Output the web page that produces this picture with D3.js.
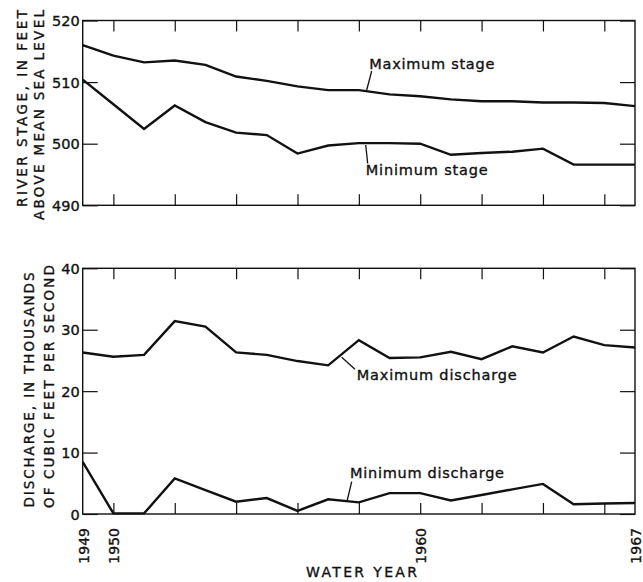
<!DOCTYPE html>
<html>
<head>
<meta charset="utf-8">
<script src="https://cdn.jsdelivr.net/npm/d3@7"></script>
<style>
  body { margin: 0; background: #fff; }
  svg { display: block; }
  text { font-family: "DejaVu Sans", "Liberation Sans", Arial, sans-serif; fill: #111; stroke: #111; stroke-width: 0.35px; }
</style>
</head>
<body>
<svg id="chart" width="643" height="582"></svg>
<script>
// Water years on record
const years = [1949, 1950, 1951, 1952, 1953, 1954, 1955, 1956, 1957, 1958,
               1959, 1960, 1961, 1962, 1963, 1964, 1965, 1966, 1967];

// River stage, feet above mean sea level
const maxStage = [516.0, 514.3, 513.2, 513.5, 512.8, 510.9, 510.2, 509.3, 508.7, 508.7,
                  508.0, 507.7, 507.2, 506.9, 506.9, 506.7, 506.7, 506.6, 506.1];
const minStage = [510.4, 506.4, 502.4, 506.2, 503.5, 501.8, 501.4, 498.4, 499.7, 500.1,
                  500.1, 500.0, 498.2, 498.5, 498.7, 499.2, 496.6, 496.6, 496.6];

// Discharge, thousands of cubic feet per second
const maxDischarge = [26.3, 25.6, 25.9, 31.4, 30.5, 26.3, 25.9, 24.9, 24.2, 28.3,
                      25.4, 25.5, 26.4, 25.2, 27.3, 26.3, 28.9, 27.5, 27.1];
const minDischarge = [8.5, 0.1, 0.1, 5.8, 3.9, 2.0, 2.6, 0.5, 2.4, 1.9,
                      3.4, 3.4, 2.2, 3.1, 4.0, 4.9, 1.6, 1.7, 1.8];

// Axis ticks and labels
const yearTicks = [1950, 1952, 1954, 1956, 1958, 1960, 1962, 1964, 1966];
const yearLabels = [1949, 1950, 1960, 1967];
const stageTicks = [490, 500, 510, 520];
const dischargeTicks = [0, 10, 20, 30, 40];

const FONT = '"DejaVu Sans", "Liberation Sans", Arial, sans-serif';
const svg = d3.select("#chart");

const x = d3.scaleLinear().domain([1949, 1967]).range([82.7, 635]);
const yStage = d3.scaleLinear().domain([490, 520]).range([205.3, 20.5]);
const yFlow = d3.scaleLinear().domain([0, 40]).range([514, 268.3]);

function styleTicks(sel) {
  sel.select(".domain").remove();
  sel.selectAll("line").attr("stroke", "#111").attr("stroke-width", 1.2);
  return sel;
}

function panel(y, ticks, fmt) {
  const g = svg.append("g");
  const [y0, y1] = y.range();
  const [x0, x1] = x.range();

  // left axis with labels, ticks pointing inward
  const left = styleTicks(g.append("g").attr("transform", `translate(${x0},0)`)
    .call(d3.axisLeft(y).tickValues(ticks).tickSize(-15).tickPadding(3).tickFormat(fmt)));
  left.selectAll("text").attr("font-size", 14.5).attr("dy", "0.36em")
    .style("font-family", FONT).attr("fill", "#111");

  // right axis ticks, inward
  styleTicks(g.append("g").attr("transform", `translate(${x1},0)`)
    .call(d3.axisRight(y).tickValues(ticks).tickSize(-15).tickFormat("")));

  // top and bottom year ticks, inward
  styleTicks(g.append("g").attr("transform", `translate(0,${y1})`)
    .call(d3.axisTop(x).tickValues(yearTicks).tickSize(-11).tickFormat("")));
  styleTicks(g.append("g").attr("transform", `translate(0,${y0})`)
    .call(d3.axisBottom(x).tickValues(yearTicks).tickSize(-11).tickFormat("")));

  // frame
  g.append("rect")
    .attr("x", x0).attr("y", y1)
    .attr("width", x1 - x0).attr("height", y0 - y1)
    .attr("fill", "none").attr("stroke", "#111").attr("stroke-width", 1.4);
  return g;
}

function series(values, y) {
  const line = d3.line().x((d, i) => x(years[i])).y(d => y(d));
  svg.append("path")
    .datum(values)
    .attr("d", line)
    .attr("fill", "none")
    .attr("stroke", "#111")
    .attr("stroke-width", 2.4)
    .attr("stroke-linejoin", "miter");
}

function label(text, tx, ty, len, leader) {
  svg.append("text")
    .attr("x", tx).attr("y", ty)
    .attr("font-size", 14.5)
    .attr("textLength", len)
    .attr("lengthAdjust", "spacing")
    .text(text);
  svg.append("line")
    .attr("x1", leader[0]).attr("y1", leader[1])
    .attr("x2", leader[2]).attr("y2", leader[3])
    .attr("stroke", "#111").attr("stroke-width", 1.3);
}

function vtitle(text, xb, yc, len) {
  svg.append("text")
    .attr("transform", `translate(${xb},${yc}) rotate(-90)`)
    .attr("text-anchor", "middle")
    .attr("font-size", 13.5)
    .attr("textLength", len)
    .attr("lengthAdjust", "spacing")
    .text(text);
}

// Upper panel: river stage
panel(yStage, stageTicks, d3.format("d"));
series(maxStage, yStage);
series(minStage, yStage);
label("Maximum stage", 369.3, 68.5, 125, [371.7, 71, 366.7, 90]);
label("Minimum stage", 365.7, 175, 122, [365.7, 145, 367.7, 163.5]);
vtitle("RIVER STAGE, IN FEET", 27, 108.5, 197);
vtitle("ABOVE MEAN SEA LEVEL", 43.5, 115, 210);

// Lower panel: discharge
panel(yFlow, dischargeTicks, d3.format("d"));
series(maxDischarge, yFlow);
series(minDischarge, yFlow);
label("Maximum discharge", 356.7, 380, 160, [341.7, 357.3, 355, 369.3]);
label("Minimum discharge", 350, 478.3, 154, [351.7, 481.7, 347.3, 500]);
vtitle("DISCHARGE, IN THOUSANDS", 34, 390, 235);
vtitle("OF CUBIC FEET PER SECOND", 53.5, 386.5, 243);

// Year labels, rotated
const xl = svg.append("g").attr("transform", "translate(0,528)")
  .call(d3.axisBottom(x).tickValues(yearLabels).tickSize(0).tickPadding(0).tickFormat(d3.format("d")));
xl.select(".domain").remove();
xl.selectAll("text")
  .attr("font-size", 14)
  .style("font-family", FONT)
  .attr("fill", "#111")
  .attr("text-anchor", "end")
  .attr("dy", null)
  .attr("y", 0)
  .attr("transform", "translate(5.3,0) rotate(-90)");

svg.append("text")
  .attr("x", 361.5).attr("y", 577)
  .attr("text-anchor", "middle")
  .attr("font-size", 14)
  .attr("textLength", 111)
  .attr("lengthAdjust", "spacing")
  .text("WATER YEAR");
</script>
</body>
</html>
